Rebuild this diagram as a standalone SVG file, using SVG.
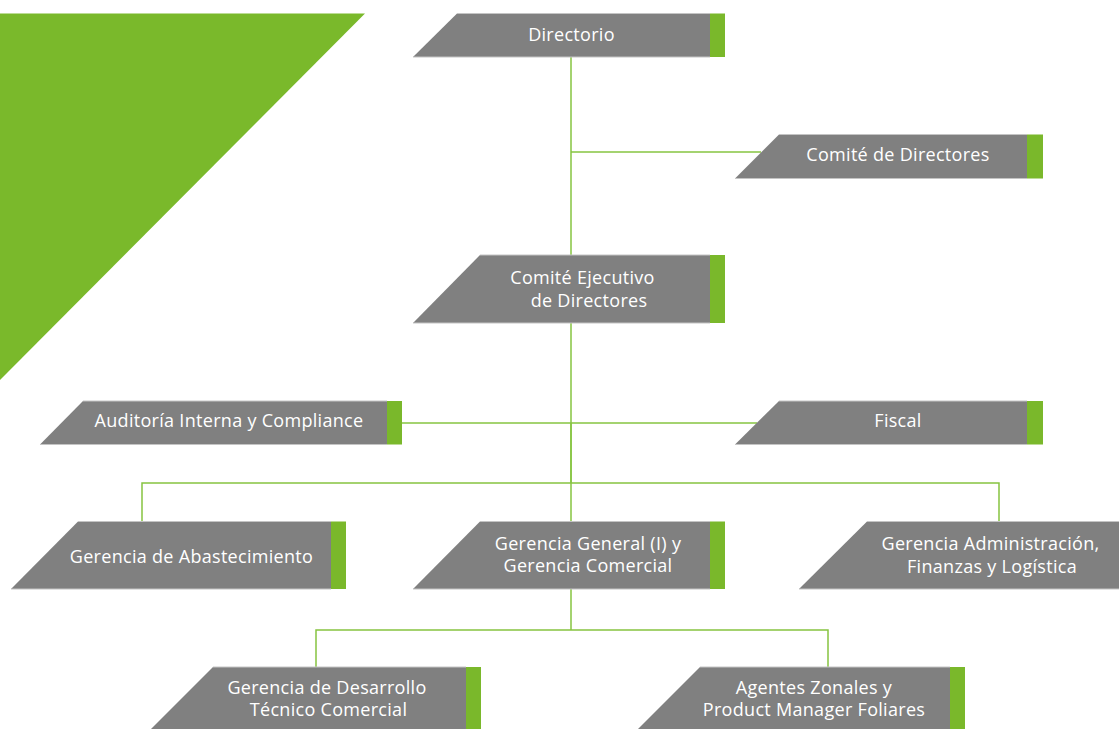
<svg xmlns="http://www.w3.org/2000/svg" width="1119" height="729" viewBox="0 0 1119 729">
  <style>
    .box { fill: #808080; }
    .rim { fill: none; stroke: #c4c4c4; stroke-width: 1; }
    .tab { fill: #7ab82b; }
    .lbl { fill: #ffffff; font-family: "Open Sans", "Liberation Sans", sans-serif; font-size: 18px; letter-spacing: 0.3px; text-anchor: middle; }
    .wire { fill: none; stroke: #86c440; stroke-width: 1.5; }
  </style>

  <!-- decorative corner wedge -->
  <polygon points="0,13.5 365,13.5 0,380" fill="#7ab92b"/>

  <!-- connectors -->
  <g id="connectors" class="wire">
    <path d="M571,57 V255"/>
    <path d="M571,152 H761"/>
    <path d="M571,323 V521"/>
    <path d="M402,423 H757"/>
    <path d="M571,423 V483"/>
    <path d="M142,521 V483 H999 V521"/>
    <path d="M571,589 V630"/>
    <path d="M316,667 V630 H828 V667"/>
  </g>

  <!-- Directorio -->
  <g id="directorio">
    <polygon class="box" points="457,13.5 710,13.5 710,57 413,57"/>
    <path class="rim" d="M457,13.5 H710 M413,57 H710"/>
    <rect class="tab" x="710" y="13.5" width="15" height="43.5"/>
    <text class="lbl" x="571.5" y="41">Directorio</text>
  </g>

  <!-- Comité de Directores -->
  <g id="comite-directores">
    <polygon class="box" points="779,134.5 1027,134.5 1027,178.5 735,178.5"/>
    <path class="rim" d="M779,134.5 H1027 M735,178.5 H1027"/>
    <rect class="tab" x="1027" y="134.5" width="16" height="44"/>
    <text class="lbl" x="898" y="161">Comité de Directores</text>
  </g>

  <!-- Comité Ejecutivo de Directores -->
  <g id="comite-ejecutivo">
    <polygon class="box" points="480,255 710,255 710,323 413,323"/>
    <path class="rim" d="M480,255 H710 M413,323 H710"/>
    <rect class="tab" x="710" y="255" width="15" height="68"/>
    <text class="lbl"><tspan x="582.5" y="284">Comité Ejecutivo</tspan><tspan x="589" y="307">de Directores</tspan></text>
  </g>

  <!-- Auditoría Interna y Compliance -->
  <g id="auditoria">
    <polygon class="box" points="83,401 387,401 387,444.5 40,444.5"/>
    <path class="rim" d="M83,401 H387 M40,444.5 H387"/>
    <rect class="tab" x="387" y="401" width="15" height="43.5"/>
    <text class="lbl" x="229" y="427">Auditoría Interna y Compliance</text>
  </g>

  <!-- Fiscal -->
  <g id="fiscal">
    <polygon class="box" points="779,401 1027,401 1027,444.5 735,444.5"/>
    <path class="rim" d="M779,401 H1027 M735,444.5 H1027"/>
    <rect class="tab" x="1027" y="401" width="16" height="43.5"/>
    <text class="lbl" x="898" y="427">Fiscal</text>
  </g>

  <!-- Gerencia de Abastecimiento -->
  <g id="abastecimiento">
    <polygon class="box" points="78,521.5 331,521.5 331,589 11,589"/>
    <path class="rim" d="M78,521.5 H331 M11,589 H331"/>
    <rect class="tab" x="331" y="521.5" width="15" height="67.5"/>
    <text class="lbl" x="191.5" y="563">Gerencia de Abastecimiento</text>
  </g>

  <!-- Gerencia General (I) y Gerencia Comercial -->
  <g id="gerencia-general">
    <polygon class="box" points="480,521.5 710,521.5 710,589 413,589"/>
    <path class="rim" d="M480,521.5 H710 M413,589 H710"/>
    <rect class="tab" x="710" y="521.5" width="15" height="67.5"/>
    <text class="lbl"><tspan x="588" y="550">Gerencia General (I) y</tspan><tspan x="588" y="572">Gerencia Comercial</tspan></text>
  </g>

  <!-- Gerencia Administración, Finanzas y Logística -->
  <g id="administracion">
    <polygon class="box" points="867,521.5 1119,521.5 1119,589 799,589"/>
    <path class="rim" d="M867,521.5 H1119 M799,589 H1119"/>
    <text class="lbl"><tspan x="990.5" y="549.5">Gerencia Administración,</tspan><tspan x="992" y="572.5">Finanzas y Logística</tspan></text>
  </g>

  <!-- Gerencia de Desarrollo Técnico Comercial -->
  <g id="desarrollo">
    <polygon class="box" points="213,667 466,667 466,734 146,734"/>
    <path class="rim" d="M213,667 H466"/>
    <rect class="tab" x="466" y="667" width="15" height="67"/>
    <text class="lbl"><tspan x="327" y="694">Gerencia de Desarrollo</tspan><tspan x="328.5" y="716">Técnico Comercial</tspan></text>
  </g>

  <!-- Agentes Zonales y Product Manager Foliares -->
  <g id="agentes">
    <polygon class="box" points="700,667 950,667 950,734 633,734"/>
    <path class="rim" d="M700,667 H950"/>
    <rect class="tab" x="950" y="667" width="15" height="67"/>
    <text class="lbl"><tspan x="814" y="694">Agentes Zonales y</tspan><tspan x="814" y="716">Product Manager Foliares</tspan></text>
  </g>
</svg>
